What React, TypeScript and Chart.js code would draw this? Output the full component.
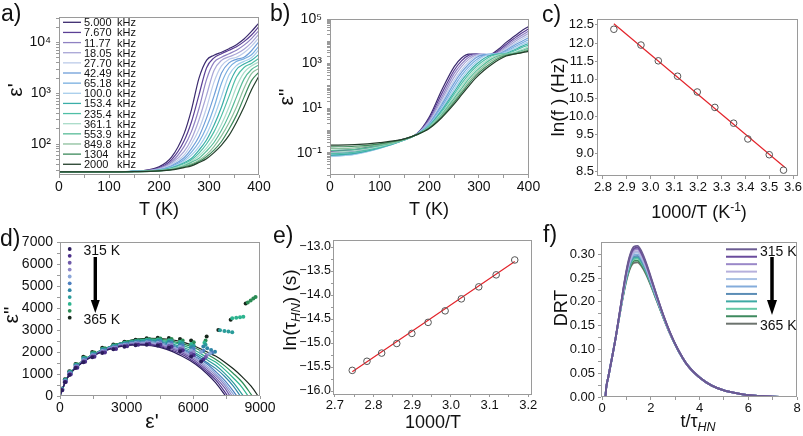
import React, { useEffect, useRef } from "react";
import { Chart, registerables } from "chart.js";
Chart.register(...registerables);

const W = 803;
const H = 436;
const FF = "'Liberation Sans', Arial, Helvetica, sans-serif";
const FRAME = "#9a9a9a";
const INK = "#111111";

// ---------------- Panel a : epsilon' vs T (log10 values) ----------------
const freqLabels = ["5.000", "7.670", "11.77", "18.05", "27.70", "42.49", "65.18", "100.0", "153.4", "235.4", "361.1", "553.9", "849.8", "1304", "2000"];
const tempA = [0, 100, 150, 200, 225, 250, 265, 280, 295, 310, 325, 340, 355, 370, 385, 400];
const log10EpsReal = [
  [1.45, 1.45, 1.46, 1.55, 1.74, 2.2, 2.68, 3.3, 3.65, 3.75, 3.81, 3.88, 3.96, 4.07, 4.22, 4.39],
  [1.45, 1.45, 1.46, 1.53, 1.69, 2.06, 2.44, 2.97, 3.5, 3.7, 3.78, 3.85, 3.92, 4.02, 4.15, 4.32],
  [1.45, 1.45, 1.46, 1.52, 1.65, 1.95, 2.25, 2.7, 3.27, 3.61, 3.71, 3.78, 3.85, 3.95, 4.08, 4.24],
  [1.45, 1.45, 1.46, 1.51, 1.62, 1.85, 2.1, 2.48, 2.96, 3.45, 3.65, 3.72, 3.78, 3.87, 4.0, 4.17],
  [1.45, 1.45, 1.46, 1.5, 1.6, 1.78, 2.0, 2.29, 2.71, 3.22, 3.54, 3.67, 3.71, 3.8, 3.93, 4.1],
  [1.45, 1.45, 1.46, 1.49, 1.57, 1.73, 1.91, 2.15, 2.51, 2.95, 3.4, 3.6, 3.67, 3.71, 3.84, 4.02],
  [1.45, 1.45, 1.46, 1.49, 1.56, 1.69, 1.84, 2.04, 2.33, 2.72, 3.2, 3.5, 3.63, 3.68, 3.76, 3.93],
  [1.45, 1.45, 1.46, 1.48, 1.54, 1.66, 1.78, 1.95, 2.19, 2.53, 2.94, 3.36, 3.55, 3.63, 3.7, 3.86],
  [1.45, 1.45, 1.46, 1.48, 1.53, 1.63, 1.72, 1.88, 2.08, 2.37, 2.73, 3.17, 3.47, 3.58, 3.65, 3.77],
  [1.45, 1.45, 1.46, 1.48, 1.52, 1.61, 1.69, 1.82, 2.0, 2.24, 2.56, 2.94, 3.32, 3.51, 3.59, 3.69],
  [1.45, 1.45, 1.455, 1.475, 1.51, 1.59, 1.66, 1.77, 1.92, 2.12, 2.39, 2.73, 3.13, 3.41, 3.54, 3.62],
  [1.45, 1.45, 1.455, 1.47, 1.5, 1.57, 1.64, 1.72, 1.86, 2.03, 2.27, 2.57, 2.93, 3.28, 3.47, 3.56],
  [1.45, 1.45, 1.455, 1.47, 1.5, 1.56, 1.61, 1.68, 1.79, 1.95, 2.16, 2.42, 2.73, 3.1, 3.39, 3.49],
  [1.45, 1.45, 1.455, 1.47, 1.495, 1.55, 1.59, 1.655, 1.75, 1.88, 2.05, 2.29, 2.57, 2.92, 3.25, 3.42],
  [1.45, 1.45, 1.455, 1.47, 1.49, 1.535, 1.57, 1.635, 1.71, 1.83, 1.98, 2.17, 2.43, 2.73, 3.07, 3.34],
];
const epsRealTicks = [30, 40, 50, 60, 70, 80, 90, 100, 200, 300, 400, 500, 600, 700, 800, 900, 1000, 2000, 3000, 4000, 5000, 6000, 7000, 8000, 9000, 10000, 20000, 30000];
const epsRealTickValues = [100, 1000, 10000];
const epsRealTickLabels = ["10²", "10³", "10⁴"];

// ---------------- Panel b : epsilon'' vs T (log10 values) ----------------
const tempB = [0, 50, 100, 150, 175, 200, 225, 250, 265, 280, 295, 310, 325, 340, 355, 370, 385, 400];
const log10EpsLoss = [
  [-0.92, -0.86, -0.64, -0.38, -0.15, 0.6, 1.8, 2.85, 3.25, 3.42, 3.42, 3.37, 3.42, 3.65, 3.95, 4.2, 4.45, 4.66],
  [-0.95, -0.89, -0.67, -0.4, -0.16, 0.53, 1.64, 2.69, 3.12, 3.38, 3.43, 3.39, 3.4, 3.58, 3.86, 4.11, 4.35, 4.55],
  [-1.0, -0.93, -0.7, -0.41, -0.16, 0.46, 1.49, 2.55, 2.99, 3.3, 3.42, 3.41, 3.39, 3.53, 3.78, 4.03, 4.25, 4.45],
  [-1.05, -0.97, -0.73, -0.41, -0.17, 0.41, 1.37, 2.39, 2.86, 3.2, 3.39, 3.42, 3.39, 3.49, 3.71, 3.95, 4.16, 4.35],
  [-1.1, -1.01, -0.76, -0.42, -0.17, 0.35, 1.25, 2.24, 2.72, 3.09, 3.34, 3.42, 3.41, 3.46, 3.65, 3.87, 4.07, 4.25],
  [-1.13, -1.04, -0.78, -0.42, -0.17, 0.31, 1.15, 2.11, 2.6, 2.98, 3.27, 3.4, 3.42, 3.44, 3.6, 3.8, 3.98, 4.16],
  [-1.16, -1.06, -0.8, -0.43, -0.18, 0.28, 1.05, 1.97, 2.47, 2.86, 3.17, 3.37, 3.42, 3.42, 3.55, 3.73, 3.9, 4.07],
  [-1.18, -1.08, -0.81, -0.43, -0.18, 0.24, 0.97, 1.84, 2.34, 2.75, 3.07, 3.32, 3.41, 3.43, 3.51, 3.67, 3.83, 3.98],
  [-1.12, -1.03, -0.79, -0.43, -0.18, 0.21, 0.9, 1.72, 2.22, 2.64, 2.97, 3.23, 3.38, 3.42, 3.46, 3.6, 3.76, 3.9],
  [-1.05, -0.97, -0.76, -0.42, -0.18, 0.19, 0.82, 1.62, 2.1, 2.53, 2.87, 3.14, 3.34, 3.42, 3.44, 3.55, 3.7, 3.83],
  [-0.98, -0.91, -0.72, -0.42, -0.19, 0.16, 0.76, 1.52, 1.99, 2.42, 2.77, 3.05, 3.27, 3.39, 3.43, 3.49, 3.62, 3.76],
  [-0.9, -0.85, -0.68, -0.41, -0.19, 0.14, 0.71, 1.43, 1.88, 2.31, 2.67, 2.96, 3.2, 3.35, 3.42, 3.46, 3.57, 3.7],
  [-0.82, -0.78, -0.64, -0.4, -0.19, 0.12, 0.66, 1.34, 1.77, 2.2, 2.57, 2.87, 3.11, 3.3, 3.4, 3.44, 3.53, 3.65],
  [-0.74, -0.71, -0.6, -0.39, -0.19, 0.11, 0.61, 1.26, 1.68, 2.1, 2.48, 2.78, 3.03, 3.24, 3.37, 3.43, 3.49, 3.6],
  [-0.66, -0.64, -0.55, -0.38, -0.19, 0.09, 0.57, 1.18, 1.59, 2.0, 2.38, 2.69, 2.95, 3.17, 3.34, 3.42, 3.48, 3.55],
];
const epsLossTicks = [
  0.01, 0.02, 0.03, 0.04, 0.05, 0.06, 0.07, 0.08, 0.09,
  0.1, 0.2, 0.3, 0.4, 0.5, 0.6, 0.7, 0.8, 0.9,
  1, 2, 3, 4, 5, 6, 7, 8, 9,
  10, 20, 30, 40, 50, 60, 70, 80, 90,
  100, 200, 300, 400, 500, 600, 700, 800, 900,
  1000, 2000, 3000, 4000, 5000, 6000, 7000, 8000, 9000,
  10000, 20000, 30000, 40000, 50000, 60000, 70000, 80000, 90000, 100000,
];
const epsLossTickValues = [0.1, 10, 1000, 100000];
const epsLossTickLabels = ["10⁻¹", "10¹", "10³", "10⁵"];

// ---------------- Panel c : Arrhenius ln(f) ----------------
const arrInvT = [2.846, 2.96, 3.033, 3.114, 3.197, 3.271, 3.35, 3.41, 3.5, 3.56];
const arrLnF = [12.38, 11.95, 11.52, 11.1, 10.67, 10.25, 9.82, 9.39, 8.96, 8.54];
const arrFitX = [2.846, 3.565];
const arrFitY = [12.53, 8.62];
const arrXTicks = [2.8, 2.9, 3.0, 3.1, 3.2, 3.3, 3.4, 3.5, 3.6];
const arrYTicks = [8.5, 9.0, 9.5, 10.0, 10.5, 11.0, 11.5, 12.0, 12.5];

// ---------------- Panel d : Cole-Cole ----------------
const ccTemps = ["315 K", "320 K", "325 K", "330 K", "335 K", "340 K", "345 K", "350 K", "355 K", "360 K", "365 K"];
const ccDotsEpsReal = [
  [80, 220, 420, 700, 1050, 1450, 1900, 2400, 2900, 3400, 3900, 4400, 4900, 5400, 5900, 6350],
  [100, 260, 480, 780, 1130, 1550, 2020, 2520, 3020, 3520, 4020, 4520, 5020, 5520, 6020, 6450],
  [80, 220, 420, 700, 1050, 1450, 1900, 2400, 2900, 3400, 3900, 4400, 4900, 5400, 5900, 6550],
  [100, 260, 480, 780, 1130, 1550, 2020, 2520, 3020, 3520, 4020, 4520, 5020, 5520, 6020, 6600],
  [80, 220, 420, 700, 1050, 1450, 1900, 2400, 2900, 3400, 3900, 4400, 4900, 5400, 5900, 6350, 6750],
  [100, 260, 480, 780, 1130, 1550, 2020, 2520, 3020, 3520, 4020, 4520, 5020, 5520, 6020, 6450, 6850],
  [80, 220, 420, 700, 1050, 1450, 1900, 2400, 2900, 3400, 3900, 4400, 4900, 5400, 5900, 6450, 6625, 6800, 6975],
  [100, 260, 480, 780, 1130, 1550, 2020, 2520, 3020, 3520, 4020, 4520, 5020, 5520, 6020, 6550, 7200, 7400, 7580, 7750],
  [80, 220, 420, 700, 1050, 1450, 1900, 2400, 2900, 3400, 3900, 4400, 4900, 5400, 5900, 6500, 7750, 7930, 8100, 8250],
  [100, 260, 480, 780, 1130, 1550, 2020, 2520, 3020, 3520, 4020, 4520, 5020, 5520, 6020, 6550, 8450, 8580, 8700, 8800],
  [80, 220, 420, 700, 1050, 1450, 1900, 2400, 2900, 3400, 3900, 4400, 4900, 5400, 5900, 6600, 7125, 7680, 8355],
];
const ccDotsEpsLoss = [
  [260, 620, 960, 1270, 1530, 1760, 1960, 2120, 2240, 2310, 2330, 2290, 2190, 2030, 1800, 1570],
  [267, 632, 975, 1289, 1555, 1782, 1982, 2141, 2261, 2334, 2358, 2325, 2233, 2079, 1862, 1660],
  [275, 645, 992, 1305, 1577, 1804, 2003, 2161, 2282, 2357, 2385, 2357, 2273, 2132, 1934, 1760],
  [281, 658, 1007, 1324, 1602, 1827, 2023, 2183, 2304, 2384, 2413, 2391, 2316, 2185, 1999, 1850],
  [287, 671, 1024, 1343, 1624, 1850, 2046, 2203, 2325, 2406, 2440, 2426, 2357, 2237, 2068, 2000, 1930],
  [296, 690, 1043, 1365, 1656, 1880, 2077, 2234, 2358, 2438, 2478, 2470, 2410, 2301, 2146, 2060, 1980],
  [302, 703, 1058, 1381, 1678, 1903, 2097, 2253, 2379, 2462, 2505, 2502, 2452, 2356, 2218, 2250, 2170, 2090, 2015],
  [309, 717, 1076, 1400, 1701, 1925, 2119, 2275, 2400, 2484, 2532, 2537, 2496, 2410, 2287, 2330, 2990, 2960, 2930, 2900],
  [315, 730, 1091, 1419, 1726, 1948, 2139, 2294, 2420, 2505, 2557, 2572, 2539, 2466, 2361, 2420, 3530, 3555, 3580, 3600],
  [324, 745, 1111, 1438, 1752, 1974, 2165, 2317, 2445, 2534, 2589, 2610, 2589, 2526, 2440, 2520, 4250, 4340, 4430, 4500],
  [330, 760, 1130, 1460, 1780, 2000, 2190, 2340, 2470, 2560, 2620, 2650, 2640, 2590, 2520, 2700, 3000, 3470, 4210],
];
const ccFitEpsReal = [0, 100, 300, 600, 1000, 1500, 2000, 2700, 3400, 4100, 4800, 5500, 6100, 6600, 7000, 7400, 7800, 8200, 8600, 9000];
const ccFitEpsLoss = [
  [0, 280, 770, 1165, 1515, 1820, 2045, 2245, 2325, 2285, 2120, 1805, 1445, 1025, 605, 70, -500],
  [0, 283, 780, 1180, 1525, 1835, 2060, 2265, 2350, 2320, 2160, 1890, 1510, 1110, 730, 210, -400],
  [0, 287, 777, 1183, 1535, 1845, 2072, 2287, 2376, 2352, 2208, 1960, 1590, 1195, 835, 380, -215, -600],
  [0, 290, 775, 1185, 1540, 1855, 2090, 2310, 2405, 2385, 2255, 2020, 1670, 1285, 945, 510, -70, -550],
  [0, 287, 785, 1190, 1550, 1868, 2100, 2333, 2430, 2420, 2295, 2075, 1740, 1370, 1030, 610, 70, -500],
  [0, 288, 780, 1190, 1560, 1878, 2120, 2355, 2458, 2455, 2335, 2120, 1785, 1465, 1115, 720, 220, -350],
  [0, 285, 780, 1190, 1570, 1885, 2125, 2370, 2485, 2500, 2385, 2160, 1880, 1530, 1255, 900, 450, -130, -650],
  [0, 285, 775, 1195, 1575, 1890, 2135, 2390, 2515, 2540, 2430, 2225, 1955, 1655, 1395, 1040, 610, 75, -500],
  [0, 283, 770, 1195, 1580, 1895, 2145, 2390, 2530, 2570, 2480, 2315, 2055, 1760, 1540, 1210, 820, 385, -210],
  [0, 280, 775, 1195, 1585, 1900, 2145, 2405, 2560, 2600, 2540, 2380, 2170, 1900, 1665, 1380, 1025, 625, 75, -500],
  [0, 275, 765, 1185, 1590, 1895, 2145, 2405, 2580, 2625, 2590, 2460, 2250, 2010, 1815, 1550, 1235, 870, 445, -130],
];
const ccXTicks = [0, 1500, 3000, 4500, 6000, 7500, 9000];
const ccYTicks = [0, 500, 1000, 1500, 2000, 2500, 3000, 3500, 4000, 4500, 5000, 5500, 6000, 6500, 7000];

// ---------------- Panel e : ln(tau_HN) ----------------
const tauInvT = [2.745, 2.783, 2.821, 2.86, 2.899, 2.941, 2.985, 3.027, 3.072, 3.117, 3.165];
const tauLn = [-15.57, -15.38, -15.21, -15.01, -14.8, -14.57, -14.33, -14.08, -13.83, -13.58, -13.27];
const tauFitX = [2.745, 3.165];
const tauFitY = [-15.6, -13.3];
const tauXTicks = [2.7, 2.75, 2.8, 2.85, 2.9, 2.95, 3.0, 3.05, 3.1, 3.15, 3.2];
const tauYTicks = [-16, -15.75, -15.5, -15.25, -15, -14.75, -14.5, -14.25, -14, -13.75, -13.5, -13.25, -13];

// ---------------- Panel f : DRT ----------------
const drtT = [0.13, 0.17, 0.25, 0.4, 0.55, 0.7, 0.85, 1.0, 1.15, 1.3, 1.45, 1.6, 1.8, 2.0, 2.25, 2.5, 2.8, 3.1, 3.5, 4.0, 4.5, 5.0, 5.5, 6.0, 7.0, 8.0];
const drtValues = [
  [0, 0.022, 0.042, 0.082, 0.124, 0.172, 0.222, 0.268, 0.3, 0.316, 0.318, 0.308, 0.283, 0.252, 0.212, 0.174, 0.134, 0.101, 0.067, 0.041, 0.024, 0.014, 0.008, 0.004, 0.001, 0],
  [0, 0.022, 0.042, 0.082, 0.124, 0.172, 0.221, 0.265, 0.297, 0.312, 0.314, 0.304, 0.28, 0.25, 0.211, 0.173, 0.134, 0.101, 0.067, 0.041, 0.024, 0.014, 0.008, 0.004, 0.001, 0],
  [0, 0.022, 0.042, 0.082, 0.124, 0.171, 0.22, 0.264, 0.294, 0.309, 0.311, 0.302, 0.278, 0.248, 0.21, 0.173, 0.133, 0.101, 0.067, 0.041, 0.024, 0.014, 0.008, 0.004, 0.001, 0],
  [0, 0.022, 0.042, 0.082, 0.124, 0.171, 0.218, 0.261, 0.291, 0.305, 0.307, 0.298, 0.275, 0.246, 0.209, 0.172, 0.133, 0.101, 0.067, 0.041, 0.024, 0.014, 0.008, 0.004, 0.001, 0],
  [0, 0.022, 0.042, 0.082, 0.124, 0.17, 0.217, 0.259, 0.288, 0.302, 0.304, 0.295, 0.273, 0.245, 0.208, 0.172, 0.133, 0.101, 0.067, 0.041, 0.024, 0.014, 0.008, 0.004, 0.001, 0],
  [0, 0.022, 0.042, 0.082, 0.124, 0.17, 0.216, 0.257, 0.285, 0.299, 0.3, 0.292, 0.27, 0.243, 0.206, 0.171, 0.132, 0.1, 0.067, 0.041, 0.024, 0.014, 0.008, 0.004, 0.001, 0],
  [0, 0.022, 0.042, 0.082, 0.124, 0.17, 0.215, 0.255, 0.283, 0.296, 0.297, 0.289, 0.268, 0.241, 0.205, 0.17, 0.132, 0.1, 0.067, 0.041, 0.024, 0.014, 0.008, 0.004, 0.001, 0],
  [0, 0.022, 0.042, 0.082, 0.124, 0.169, 0.214, 0.253, 0.28, 0.293, 0.294, 0.286, 0.266, 0.24, 0.204, 0.17, 0.132, 0.1, 0.067, 0.041, 0.024, 0.014, 0.008, 0.004, 0.001, 0],
  [0, 0.022, 0.042, 0.082, 0.124, 0.169, 0.213, 0.251, 0.278, 0.29, 0.291, 0.283, 0.264, 0.238, 0.204, 0.169, 0.132, 0.1, 0.067, 0.041, 0.024, 0.014, 0.008, 0.004, 0.001, 0],
  [0, 0.022, 0.042, 0.082, 0.124, 0.168, 0.211, 0.249, 0.274, 0.286, 0.287, 0.28, 0.261, 0.236, 0.202, 0.169, 0.131, 0.1, 0.067, 0.041, 0.024, 0.014, 0.008, 0.004, 0.001, 0],
  [0, 0.022, 0.042, 0.082, 0.124, 0.168, 0.21, 0.246, 0.271, 0.282, 0.283, 0.276, 0.258, 0.234, 0.201, 0.168, 0.131, 0.1, 0.067, 0.041, 0.024, 0.014, 0.008, 0.004, 0.001, 0],
];
const drtXTicks = [0, 1, 2, 3, 4, 5, 6, 7, 8];
const drtYTicks = [0, 0.025, 0.05, 0.075, 0.1, 0.125, 0.15, 0.175, 0.2, 0.225, 0.25, 0.275, 0.3];

// ---------------- colours ----------------
const pal15 = ["#3b2a6e", "#5b3f95", "#8f81c2", "#a8a5d6", "#bccbe9", "#6f9ed8", "#78aee0", "#a6cdeb", "#3aaea8", "#4fbfa6", "#a9dcc9", "#57bb97", "#8cbf9d", "#3d8b5c", "#233e2a"];
const pal11 = ["#2b1d5c", "#4c2f8a", "#6f5aa9", "#8d86c7", "#8aa5d8", "#4d7fbf", "#2f86a6", "#2a9c9a", "#2db48f", "#2b8c55", "#17261b"];
const palF = ["#6b5b92", "#6a4c9c", "#9a88c8", "#b6b0dc", "#a9c2e5", "#84acdb", "#5b8db6", "#3faaa4", "#66c9a6", "#3e8a5e", "#6c736e"];

// ---------------- helpers ----------------
type Seg = { t: string; s: number; i?: boolean; dy?: number };
type Plot = { l: number; r: number; t: number; b: number };

function rich(ctx: CanvasRenderingContext2D, segs: Seg[], x: number, y: number, rot = false, align: "left" | "center" | "right" = "center") {
  ctx.save();
  ctx.setTransform(1, 0, 0, 1, 0, 0);
  ctx.translate(x, y);
  if (rot) ctx.rotate(-Math.PI / 2);
  ctx.fillStyle = INK;
  ctx.textBaseline = "alphabetic";
  ctx.textAlign = "left";
  const f = (g: Seg) => `${g.i ? "italic " : ""}${g.s}px ${FF}`;
  let tw = 0;
  for (const g of segs) {
    ctx.font = f(g);
    tw += ctx.measureText(g.t).width;
  }
  let cx = align === "left" ? 0 : align === "right" ? -tw : -tw / 2;
  for (const g of segs) {
    ctx.font = f(g);
    ctx.fillText(g.t, cx, g.dy || 0);
    cx += ctx.measureText(g.t).width;
  }
  ctx.restore();
}

function arrow(ctx: CanvasRenderingContext2D, x: number, y0: number, yHead: number, yTip: number, sw: number, hw: number) {
  ctx.save();
  ctx.fillStyle = "#000";
  ctx.fillRect(x - sw / 2, y0, sw, yHead - y0 + 1);
  ctx.beginPath();
  ctx.moveTo(x - hw / 2, yHead);
  ctx.lineTo(x + hw / 2, yHead);
  ctx.lineTo(x, yTip);
  ctx.closePath();
  ctx.fill();
  ctx.restore();
}

function near(a: number, b: number) {
  return Math.abs(a - b) < 1e-6 * Math.max(1, Math.abs(b));
}

function mkAxis(o: {
  axis: "x" | "y";
  type?: string;
  min: number;
  max: number;
  ticks: number[];
  label: (v: number) => string;
  size: number;
  font: number;
  tl: number;
  pad: number;
}) {
  return {
    type: o.type ?? "linear",
    position: o.axis === "x" ? "bottom" : "left",
    min: o.min,
    max: o.max,
    afterBuildTicks: (s: any) => {
      s.ticks = o.ticks.map((v) => ({ value: v }));
    },
    afterFit: (s: any) => {
      if (o.axis === "x") s.height = o.size;
      else s.width = o.size;
      s.paddingLeft = 0;
      s.paddingRight = 0;
      s.paddingTop = 0;
      s.paddingBottom = 0;
    },
    ticks: {
      autoSkip: false,
      maxRotation: 0,
      minRotation: 0,
      padding: o.pad,
      color: INK,
      font: { family: FF, size: o.font },
      callback: (v: any) => o.label(Number(v)),
    },
    grid: { drawOnChartArea: false, drawTicks: true, tickLength: o.tl, color: FRAME, lineWidth: 1 },
    border: { display: false },
    title: { display: false },
  };
}

function mkConfig(plot: Plot, x: any, y: any, datasets: any[], draw: (ctx: CanvasRenderingContext2D) => void) {
  return {
    type: "scatter",
    data: { datasets },
    options: {
      responsive: false,
      maintainAspectRatio: false,
      animation: false,
      events: [],
      layout: { padding: { left: 0, top: plot.t, right: W - plot.r, bottom: 0 }, autoPadding: false },
      plugins: { legend: { display: false }, tooltip: { enabled: false } },
      scales: { x, y },
    },
    plugins: [
      {
        id: "decor",
        afterDraw(chart: any) {
          const ctx: CanvasRenderingContext2D = chart.ctx;
          const a = chart.chartArea;
          ctx.save();
          ctx.strokeStyle = FRAME;
          ctx.lineWidth = 1;
          const l = Math.round(a.left) + 0.5;
          const t = Math.round(a.top) + 0.5;
          const r = Math.round(a.right) - 0.5;
          const b = Math.round(a.bottom) - 0.5;
          ctx.strokeRect(l, t, r - l, b - t);
          ctx.restore();
          draw(ctx);
        },
      },
    ],
  };
}

const curve = (color: string, data: { x: number; y: number }[], width = 1.2, order = 0) => ({
  data,
  showLine: true,
  borderColor: color,
  borderWidth: width,
  pointRadius: 0,
  fill: false,
  cubicInterpolationMode: "monotone",
  order,
});

// ---------------- panel configs ----------------
function cfgA() {
  const plot = { l: 59, r: 259, t: 17, b: 175 };
  const ds = log10EpsReal.map((row, i) =>
    curve(pal15[i], row.map((lv, k) => ({ x: tempA[k], y: Math.pow(10, lv) })), 1.2, 14 - i)
  );
  const x = mkAxis({ axis: "x", min: 0, max: 400, ticks: [0, 50, 100, 150, 200, 250, 300, 350, 400], label: (v) => (v % 100 === 0 ? String(v) : ""), size: H - plot.b, font: 14, tl: 3, pad: 1 });
  const y = mkAxis({
    axis: "y", type: "logarithmic", min: 24.5, max: 32000, ticks: epsRealTicks,
    label: (v) => { const k = epsRealTickValues.findIndex((t) => near(v, t)); return k >= 0 ? epsRealTickLabels[k] : ""; },
    size: plot.l, font: 14, tl: 3, pad: 5,
  });
  return mkConfig(plot, x, y, ds, (ctx) => {
    rich(ctx, [{ t: "a)", s: 23 }], 1, 21, false, "left");
    rich(ctx, [{ t: "ε'", s: 21 }], 22, 90, true);
    rich(ctx, [{ t: "T (K)", s: 18 }], 159, 215);
    ctx.save();
    for (let i = 0; i < freqLabels.length; i++) {
      const yy = 22.3 + i * 10.14;
      ctx.strokeStyle = pal15[i];
      ctx.lineWidth = 1.3;
      ctx.beginPath();
      ctx.moveTo(63, yy);
      ctx.lineTo(81, yy);
      ctx.stroke();
      ctx.fillStyle = INK;
      ctx.font = `11px ${FF}`;
      ctx.textAlign = "left";
      ctx.textBaseline = "alphabetic";
      ctx.fillText(freqLabels[i], 84, yy + 4);
      ctx.fillText("kHz", 117, yy + 4);
    }
    ctx.restore();
  });
}

function cfgB() {
  const plot = { l: 330, r: 528.5, t: 19, b: 175 };
  const ds = log10EpsLoss.map((row, i) =>
    curve(pal15[i], row.map((lv, k) => ({ x: tempB[k], y: Math.pow(10, lv) })), 1.2, 14 - i)
  );
  const x = mkAxis({ axis: "x", min: 0, max: 400, ticks: [0, 50, 100, 150, 200, 250, 300, 350, 400], label: (v) => (v % 100 === 0 ? String(v) : ""), size: H - plot.b, font: 14, tl: 3, pad: 1 });
  const y = mkAxis({
    axis: "y", type: "logarithmic", min: 0.01, max: 100000, ticks: epsLossTicks,
    label: (v) => { const k = epsLossTickValues.findIndex((t) => near(v, t)); return k >= 0 ? epsLossTickLabels[k] : ""; },
    size: plot.l, font: 14, tl: 3, pad: 5,
  });
  return mkConfig(plot, x, y, ds, (ctx) => {
    rich(ctx, [{ t: "b)", s: 23 }], 270, 21, false, "left");
    rich(ctx, [{ t: "ε\"", s: 21 }], 293, 97, true);
    rich(ctx, [{ t: "T (K)", s: 18 }], 429, 215);
  });
}

function cfgC() {
  const plot = { l: 597, r: 798, t: 19, b: 176 };
  const ds = [
    {
      data: arrInvT.map((v, k) => ({ x: v, y: arrLnF[k] })),
      showLine: false, pointRadius: 3.3, pointBorderWidth: 1, pointBorderColor: "#555", pointBackgroundColor: "rgba(255,255,255,0)", order: 0,
    },
    curve("#e3242b", arrFitX.map((v, k) => ({ x: v, y: arrFitY[k] })), 1.2, 1),
  ];
  const x = mkAxis({ axis: "x", min: 2.775, max: 3.621, ticks: arrXTicks, label: (v) => v.toFixed(1), size: H - plot.b, font: 13, tl: 3, pad: 1 });
  const y = mkAxis({ axis: "y", min: 8.38, max: 12.66, ticks: arrYTicks, label: (v) => v.toFixed(1), size: plot.l, font: 13, tl: 2, pad: 1 });
  return mkConfig(plot, x, y, ds, (ctx) => {
    rich(ctx, [{ t: "c)", s: 23 }], 542, 22, false, "left");
    rich(ctx, [{ t: "ln(f ) (Hz)", s: 19 }], 564, 97, true);
    rich(ctx, [{ t: "1000/T (K", s: 18 }, { t: "-1", s: 12, dy: -7 }, { t: ")", s: 18 }], 699, 218);
  });
}

function cfgD() {
  const plot = { l: 60, r: 260, t: 242, b: 396 };
  const dots = ccDotsEpsReal.map((xs, j) => ({
    data: xs.map((v, k) => ({ x: v, y: ccDotsEpsLoss[j][k] })),
    showLine: false, pointRadius: 2, pointBorderWidth: 0, pointBackgroundColor: pal11[j], pointBorderColor: pal11[j], order: 0,
  }));
  const lines = ccFitEpsLoss.map((row, j) => curve(pal11[j], row.map((v, k) => ({ x: ccFitEpsReal[k], y: v })), 1.2, 1));
  const x = mkAxis({ axis: "x", min: 0, max: 9000, ticks: ccXTicks, label: (v) => (v % 3000 === 0 ? String(v) : ""), size: H - plot.b, font: 14, tl: 3, pad: 1 });
  const y = mkAxis({ axis: "y", min: 0, max: 7000, ticks: ccYTicks, label: (v) => (v % 1000 === 0 ? String(v) : ""), size: plot.l, font: 14, tl: 3, pad: 4 });
  return mkConfig(plot, x, y, [...dots, ...lines], (ctx) => {
    rich(ctx, [{ t: "d)", s: 23 }], 0, 246, false, "left");
    rich(ctx, [{ t: "ε\"", s: 21 }], 18, 315, true);
    rich(ctx, [{ t: "ε'", s: 21 }], 152, 428);
    ctx.save();
    for (let j = 0; j < ccTemps.length; j++) {
      ctx.fillStyle = pal11[j];
      ctx.beginPath();
      ctx.arc(69.7, 249 + j * 6.87, 1.9, 0, Math.PI * 2);
      ctx.fill();
    }
    ctx.restore();
    rich(ctx, [{ t: ccTemps[0], s: 14 }], 83.5, 255, false, "left");
    rich(ctx, [{ t: ccTemps[ccTemps.length - 1], s: 14 }], 83.5, 324, false, "left");
    arrow(ctx, 95.3, 257, 300, 313, 3.4, 9);
  });
}

function cfgE() {
  const plot = { l: 333, r: 532, t: 240, b: 395 };
  const ds = [
    {
      data: tauInvT.map((v, k) => ({ x: v, y: tauLn[k] })),
      showLine: false, pointRadius: 3.3, pointBorderWidth: 1, pointBorderColor: "#555", pointBackgroundColor: "rgba(255,255,255,0)", order: 0,
    },
    curve("#e3242b", tauFitX.map((v, k) => ({ x: v, y: tauFitY[k] })), 1.2, 1),
  ];
  const x = mkAxis({
    axis: "x", min: 2.6952, max: 3.2096, ticks: tauXTicks,
    label: (v) => (near(v * 10, Math.round(v * 10)) ? v.toFixed(1) : ""), size: H - plot.b, font: 13, tl: 2, pad: 1,
  });
  const y = mkAxis({
    axis: "y", min: -16.083, max: -12.854, ticks: tauYTicks,
    label: (v) => (near(v * 2, Math.round(v * 2)) ? v.toFixed(1).replace("-", "−") : ""), size: plot.l, font: 12.5, tl: 2, pad: 0,
  });
  return mkConfig(plot, x, y, ds, (ctx) => {
    rich(ctx, [{ t: "e)", s: 23 }], 273, 243, false, "left");
    rich(ctx, [{ t: "ln(τ", s: 19 }, { t: "HN", s: 13, i: true, dy: 3.5 }, { t: ") (s)", s: 19 }], 296, 310, true);
    rich(ctx, [{ t: "1000/T", s: 18 }], 433, 428);
  });
}

function cfgF() {
  const plot = { l: 601, r: 797, t: 242, b: 397 };
  const ds = drtValues.map((row, j) => curve(palF[j], row.map((v, k) => ({ x: drtT[k], y: v })), 1.8, j));
  const x = mkAxis({ axis: "x", min: -0.05, max: 8, ticks: drtXTicks, label: (v) => (v % 2 === 0 ? String(v) : ""), size: H - plot.b, font: 13, tl: 3, pad: 1 });
  const y = mkAxis({
    axis: "y", min: 0, max: 0.326, ticks: drtYTicks,
    label: (v) => (near(v * 20, Math.round(v * 20)) ? v.toFixed(2) : ""), size: plot.l, font: 13, tl: 3, pad: 3,
  });
  return mkConfig(plot, x, y, ds, (ctx) => {
    rich(ctx, [{ t: "f)", s: 23 }], 543, 242, false, "left");
    rich(ctx, [{ t: "DRT", s: 18 }], 567, 308, true);
    rich(ctx, [{ t: "t/τ", s: 18 }, { t: "HN", s: 12.5, i: true, dy: 4 }], 698, 427);
    ctx.save();
    for (let j = 0; j < palF.length; j++) {
      const yy = 249.3 + j * 7.44;
      ctx.strokeStyle = palF[j];
      ctx.lineWidth = 2;
      ctx.beginPath();
      ctx.moveTo(726, yy);
      ctx.lineTo(757, yy);
      ctx.stroke();
    }
    ctx.restore();
    rich(ctx, [{ t: ccTemps[0], s: 14 }], 760, 255.5, false, "left");
    rich(ctx, [{ t: ccTemps[ccTemps.length - 1], s: 14 }], 760, 330, false, "left");
    arrow(ctx, 772, 257, 300, 315, 3.5, 10);
  });
}

export default function App() {
  const refs = useRef<(HTMLCanvasElement | null)[]>([]);
  useEffect(() => {
    const cfgs = [cfgA(), cfgB(), cfgC(), cfgD(), cfgE(), cfgF()];
    const charts = cfgs.map((c, i) => new Chart(refs.current[i] as HTMLCanvasElement, c as any));
    return () => charts.forEach((c) => c.destroy());
  }, []);
  return (
    <div style={{ position: "absolute", left: 0, top: 0, width: W, height: H, background: "#ffffff", overflow: "hidden" }}>
      {[0, 1, 2, 3, 4, 5].map((i) => (
        <canvas
          key={i}
          ref={(el) => {
            refs.current[i] = el;
          }}
          width={W}
          height={H}
          style={{ position: "absolute", left: 0, top: 0, width: W, height: H, pointerEvents: "none" }}
        />
      ))}
    </div>
  );
}
